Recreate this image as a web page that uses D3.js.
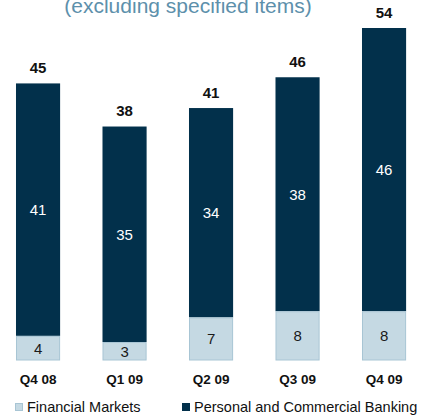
<!DOCTYPE html>
<html>
<head>
<meta charset="utf-8">
<script src="https://cdn.jsdelivr.net/npm/d3@7"></script>
<style>
  html, body { margin: 0; padding: 0; background: #fff; }
  svg { display: block; font-family: "Liberation Sans", Arial, sans-serif; }
</style>
</head>
<body>
<svg id="chart" width="422" height="420"></svg>
<script>
// Quarterly earnings by segment (excluding specified items)
const quarters = ["Q4 08", "Q1 09", "Q2 09", "Q3 09", "Q4 09"];
const financialMarkets = [4, 3, 7, 8, 8];
const personalCommercial = [41, 35, 34, 38, 46];
const totals = [45, 38, 41, 46, 54];
const seriesNames = ["Financial Markets", "Personal and Commercial Banking"];

const colors = {
  fm: "#c5d9e3", fmStroke: "#a8c5d4",
  pcb: "#02304b",
  title: "#5d90ab"
};

const svg = d3.select("#chart");

const x = d3.scaleBand()
  .domain(quarters)
  .range([-5.2, 427.3])
  .paddingInner(0.49)
  .paddingOuter(0.245);

const y = d3.scaleLinear()
  .domain([0, 54])
  .range([360.5, 28]);

// Subtitle, partly above the visible area
svg.append("text")
  .attr("x", 188)
  .attr("y", 13)
  .attr("text-anchor", "middle")
  .attr("font-size", 21)
  .attr("fill", colors.title)
  .text("(excluding specified items)");

const rows = quarters.map((q, i) => ({
  q, fm: financialMarkets[i], pcb: personalCommercial[i], total: totals[i]
}));

const g = svg.append("g");

// Personal and Commercial Banking segment (stacked on top)
g.selectAll("rect.pcb").data(rows).join("rect")
  .attr("class", "pcb")
  .attr("x", d => x(d.q))
  .attr("width", x.bandwidth())
  .attr("y", d => y(d.fm + d.pcb))
  .attr("height", d => y(d.fm) - y(d.fm + d.pcb))
  .attr("fill", colors.pcb);

// Financial Markets segment (bottom)
g.selectAll("rect.fm").data(rows).join("rect")
  .attr("class", "fm")
  .attr("x", d => x(d.q) + 0.5)
  .attr("width", x.bandwidth() - 1)
  .attr("y", d => y(d.fm) + 0.5)
  .attr("height", d => y(0) - y(d.fm) - 1)
  .attr("fill", colors.fm)
  .attr("stroke", colors.fmStroke)
  .attr("stroke-width", 1);

// Segment value labels
g.selectAll("text.pcbv").data(rows).join("text")
  .attr("x", d => x(d.q) + x.bandwidth() / 2)
  .attr("y", d => (y(d.fm) + y(d.fm + d.pcb)) / 2 + 5.5)
  .attr("text-anchor", "middle")
  .attr("font-size", 15)
  .attr("fill", "#ffffff")
  .text(d => d.pcb);

g.selectAll("text.fmv").data(rows).join("text")
  .attr("x", d => x(d.q) + x.bandwidth() / 2)
  .attr("y", d => (y(0) + y(d.fm)) / 2 + 5.5)
  .attr("text-anchor", "middle")
  .attr("font-size", 15)
  .attr("fill", "#1a1a1a")
  .text(d => d.fm);

// Totals above bars
g.selectAll("text.tot").data(rows).join("text")
  .attr("x", d => x(d.q) + x.bandwidth() / 2)
  .attr("y", d => y(d.total) - 10.5)
  .attr("text-anchor", "middle")
  .attr("font-size", 15)
  .attr("font-weight", "bold")
  .attr("fill", "#111")
  .text(d => d.total);

// Category axis (labels only)
const xAxis = svg.append("g")
  .attr("transform", `translate(0,${y(0)})`)
  .call(d3.axisBottom(x).tickSize(0).tickPadding(14));
xAxis.select(".domain").remove();
xAxis.selectAll("text")
  .attr("font-family", "Liberation Sans, Arial, sans-serif")
  .attr("font-size", 13.5)
  .attr("font-weight", "bold")
  .attr("fill", "#111");

// Legend
const legend = svg.append("g");
const legendItems = [
  { name: seriesNames[0], fill: colors.fm, stroke: colors.fmStroke, x: 15 },
  { name: seriesNames[1], fill: colors.pcb, stroke: colors.pcb, x: 182 }
];
legendItems.forEach(it => {
  legend.append("rect")
    .attr("x", it.x + 0.5).attr("y", 403.5)
    .attr("width", 7).attr("height", 7)
    .attr("fill", it.fill).attr("stroke", it.stroke);
  legend.append("text")
    .attr("x", it.x + 12).attr("y", 412)
    .attr("font-size", 14.5)
    .attr("fill", "#111")
    .text(it.name);
});
</script>
</body>
</html>
